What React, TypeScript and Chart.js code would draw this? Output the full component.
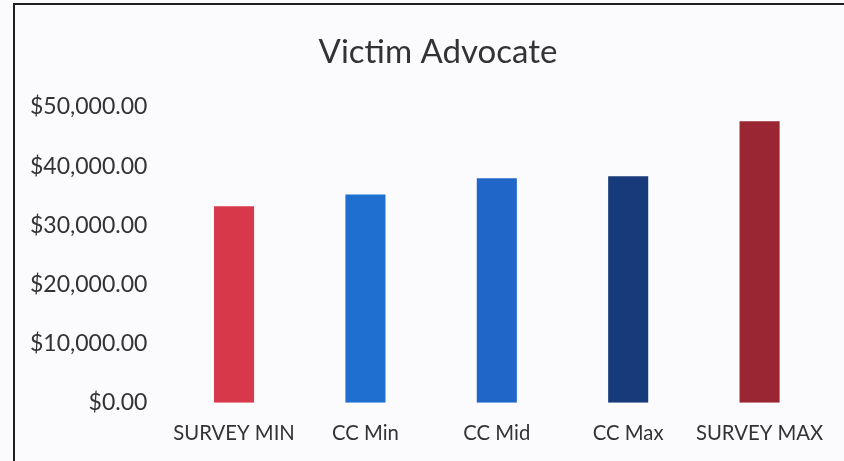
import React, { useEffect, useRef } from "react";
import { Chart, registerables } from "chart.js";

Chart.register(...registerables);

const categories = ["SURVEY MIN", "CC Min", "CC Mid", "CC Max", "SURVEY MAX"];
const salaries = [33200, 35200, 37950, 38300, 47600];
const barColors = ["#d8394a", "#1f6fd0", "#1f66c8", "#173a7a", "#9a2634"];
const titleText = "Victim Advocate";

const fmt = (v: number) =>
  "$" + v.toLocaleString("en-US", { minimumFractionDigits: 2, maximumFractionDigits: 2 });

// Title centred on the full (wider) chart frame, as in the original
const frameTitle = {
  id: "frameTitle",
  afterDraw(chart: any, _args: any, opts: any) {
    const ctx = chart.ctx;
    ctx.save();
    ctx.font = `normal ${opts.size}px ${opts.family}`;
    ctx.fillStyle = opts.color;
    ctx.textAlign = "center";
    ctx.textBaseline = "middle";
    ctx.fillText(opts.text, opts.x, opts.y);
    ctx.restore();
  },
};

export default function App() {
  const ref = useRef<HTMLCanvasElement | null>(null);
  useEffect(() => {
    if (!ref.current) return;
    const chart = new Chart(ref.current, {
      type: "bar",
      data: {
        labels: categories,
        datasets: [
          {
            data: salaries,
            backgroundColor: barColors,
            borderWidth: 0,
            categoryPercentage: 1,
            barPercentage: 0.305,
          },
        ],
      },
      plugins: [frameTitle],
      options: {
        animation: false,
        responsive: false,
        maintainAspectRatio: false,
        layout: { padding: { left: 9, right: 18, top: 107, bottom: 0 } },
        plugins: {
          legend: { display: false },
          tooltip: { enabled: false },
          title: { display: false },
          frameTitle: {
            text: titleText,
            color: "#333333",
            family: "Lato",
            size: 33,
            x: 438,
            y: 52,
          },
        } as any,
        scales: {
          x: {
            grid: { display: false, drawTicks: false },
            border: { display: false },
            ticks: {
              color: "#333333",
              font: { family: "Lato", size: 20.3 },
              padding: 19,
              maxRotation: 0,
              autoSkip: false,
            },
          },
          y: {
            min: 0,
            max: 50000,
            grid: { display: false, drawTicks: false },
            border: { display: false },
            ticks: {
              stepSize: 10000,
              color: "#333333",
              font: { family: "Lato", size: 23 },
              padding: 21,
              callback: (v: any) => fmt(Number(v)),
            },
          },
        },
      },
    });
    return () => chart.destroy();
  }, []);

  return (
    <div
      style={{
        position: "fixed",
        left: 0,
        top: 0,
        width: 844,
        height: 461,
        background: "#fbfbfd",
        overflow: "hidden",
      }}
    >
      <div
        style={{
          position: "absolute",
          left: 13,
          top: 3,
          width: 900,
          height: 520,
          border: "2px solid #1e1e1e",
          boxSizing: "border-box",
        }}
      />
      <canvas
        ref={ref}
        width={844}
        height={465}
        style={{ position: "absolute", left: 0, top: 0, width: 844, height: 465 }}
      />
    </div>
  );
}
